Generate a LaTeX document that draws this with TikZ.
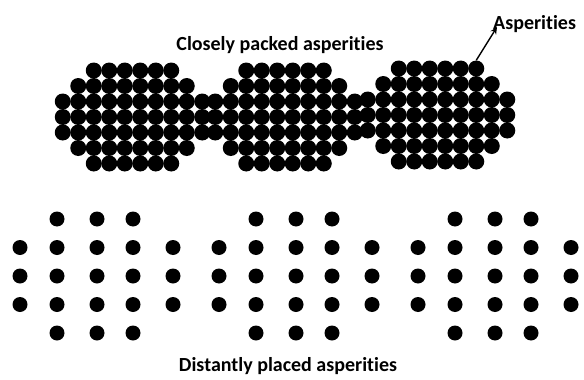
\documentclass[tikz,border=0pt]{standalone}
\usepackage{fontspec}
\setmainfont{Carlito}[Ligatures=NoCommon]
\usetikzlibrary{arrows.meta, positioning}

\begin{document}
\begin{tikzpicture}[
  x=1pt, y=-1pt,
  font=\bfseries\fontsize{20}{22}\selectfont,
  asper/.style={circle, fill=black, inner sep=0pt, minimum size=16pt},
  spot/.style={circle, fill=black, inner sep=0pt, minimum size=15pt},
  caption/.style={inner sep=1pt, align=center},
  pointer/.style={draw=black, line width=1.4pt, -{Stealth[length=7pt,width=6.5pt]}}
]
\useasboundingbox (0,0) rectangle (584,380);

%--------------------------------------------------------------
% Asperita' ravvicinate: tre gruppi compatti
%--------------------------------------------------------------
\node[caption, anchor=base] (closely) at (280,50) {Closely packed asperities};

\foreach \k/\cx/\cy in {1/132.5/117, 2/285/117, 3/437.5/115}{
  \foreach \r/\n in {1/6, 2/8, 3/10, 4/10, 5/10, 6/8, 7/6}{
    \foreach \c in {1,...,\n}{
      \node[asper] (pk\k-\r-\c) at ({\cx+(\c-(\n+1)/2)*15.5},{\cy+(\r-4)*15.5}) {};
    }
  }
}

%--------------------------------------------------------------
% Etichetta con freccia
%--------------------------------------------------------------
\node[caption, anchor=base west] (asp) at (492,30) {Asperities};
\draw[pointer] (pk3-1-6.north) -- ([xshift=5pt,yshift=3pt]asp.base west);

%--------------------------------------------------------------
% Asperita' distanziate: tre gruppi di punti
%--------------------------------------------------------------
\foreach \g in {0,1,2}{
  \foreach \c/\dx/\ra/\rb in {1/0/2/4, 2/37/1/5, 3/77/1/5, 4/113/1/5, 5/153/2/4}{
    \foreach \r in {\ra,...,\rb}{
      \node[spot] (ds\g-\c-\r) at ({20+199*\g+\dx},{219+(\r-1)*28.5}) {};
    }
  }
}

\node[caption, anchor=base] (distantly) at (288,371) {Distantly placed asperities};

\end{tikzpicture}
\end{document}
